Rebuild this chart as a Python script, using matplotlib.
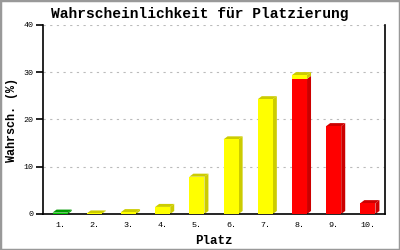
import numpy as np
import matplotlib
matplotlib.use('Agg')
import matplotlib.pyplot as plt
from matplotlib.patches import Polygon, Rectangle

# data
places = ['1.', '2.', '3.', '4.', '5.', '6.', '7.', '8.', '9.', '10.']
red = [0, 0, 0, 0, 0, 0, 0, 28.6, 18.6, 2.3]
yellow = [0, 0.12, 0.4, 1.5, 7.9, 15.8, 24.3, 0.8, 0, 0]
green = [0.3, 0, 0, 0, 0, 0, 0, 0, 0, 0]
yticks = [0, 10, 20, 30, 40]

mono = 'Liberation Mono'

fig = plt.figure(figsize=(4, 2.5), dpi=100)
fig.patches.append(Rectangle((0, 0), 1, 1, transform=fig.transFigure,
                             fill=False, edgecolor='#999999', lw=2.5))
ax = fig.add_axes([0.1075, 0.144, 0.855, 0.756])

x = np.arange(1, len(places) + 1)
w = 0.44
ax.set_xlim(0.5, 10.5)
ax.set_ylim(0, 40)

# pixel -> data size for the 3d depth
px_x = 10 / (0.855 * 400)
px_y = 40 / (0.756 * 250)
dx, dy = 4 * px_x, 3 * px_y

series = [(red, '#ff0000', '#cc0000'),
          (yellow, '#ffff00', '#cccc00'),
          (green, '#00cc00', '#009900')]

bottom = np.zeros(len(x))
tops = {}
for vals, front, dark in series:
    vals = np.array(vals, dtype=float)
    bars = ax.bar(x, vals, w, bottom=bottom, color=front, zorder=3)
    for xi, b, v in zip(x, bottom, vals):
        if v <= 0:
            continue
        r = xi + w / 2
        ax.add_patch(Polygon([(r, b), (r + dx, b + dy), (r + dx, b + v + dy), (r, b + v)],
                             closed=True, color=dark, lw=0, zorder=2))
        tops[xi] = (b + v, dark)
    bottom = bottom + vals

for xi, (t, dark) in tops.items():
    l, r = xi - w / 2, xi + w / 2
    ax.add_patch(Polygon([(l, t), (l + dx, t + dy), (r + dx, t + dy), (r, t)],
                         closed=True, color=dark, lw=0, zorder=2))

ax.yaxis.grid(True, linestyle=(0, (2, 4)), color='#bbbbbb', lw=0.8, zorder=0)
ax.set_axisbelow(True)
ax.spines['top'].set_visible(False)
for s in ['left', 'right', 'bottom']:
    ax.spines[s].set_linewidth(1.2)

ax.set_yticks(yticks)
ax.set_yticklabels([str(v) for v in yticks], fontfamily=mono, fontsize=6)
ax.tick_params(axis='y', length=5, width=1.2, pad=2)
ax.set_xticks(x)
ax.set_xticklabels(places, fontfamily=mono, fontsize=6)
ax.tick_params(axis='x', length=0, pad=6)

fig.suptitle('Wahrscheinlichkeit für Platzierung', fontfamily=mono,
             fontweight='bold', fontsize=10.5, x=0.5, y=0.945, va='center')
ax.set_xlabel('Platz', fontfamily=mono, fontweight='bold', fontsize=9, labelpad=4)
ax.set_ylabel('Wahrsch. (%)', fontfamily=mono, fontweight='bold', fontsize=8.5,
              va='center')
ax.yaxis.set_label_coords(-0.091, 0.5)

fig.savefig('out.png', dpi=100)
